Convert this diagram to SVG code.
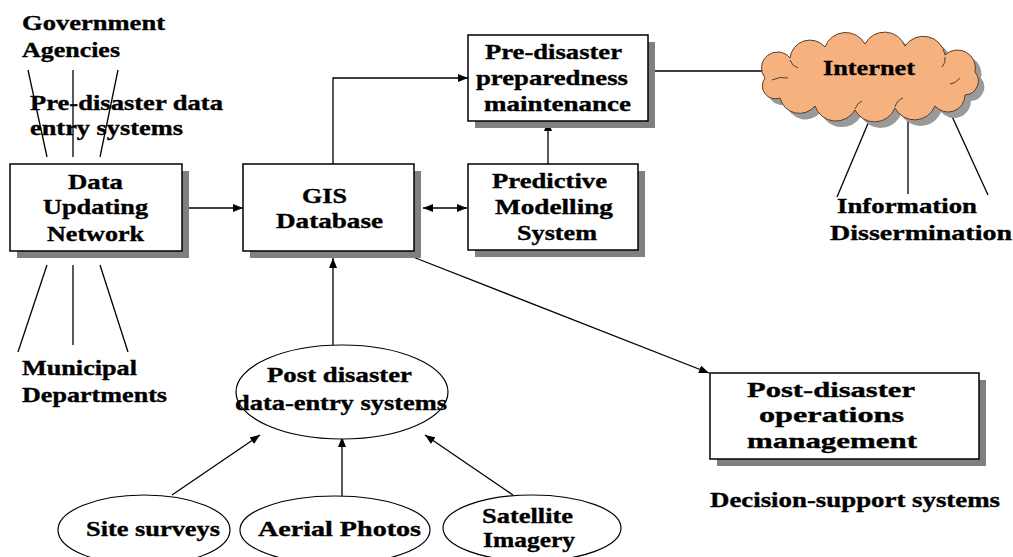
<svg xmlns="http://www.w3.org/2000/svg" width="1013" height="557" viewBox="0 0 1013 557">
<style>
  text { font-family: "Liberation Serif", "Times New Roman", serif; font-weight: bold; font-size: 21px; fill: #000; stroke: #000; stroke-width: 0.35; }
  .box { fill: #fff; stroke: #000; stroke-width: 1.5; }
  .shadow { fill: #808080; }
  .ell { fill: #fff; stroke: #000; stroke-width: 1.2; }
  .conn { fill: none; stroke: #000; stroke-width: 1.3; }
  .arr { marker-end: url(#ah); }
</style>
<defs>
  <marker id="ah" markerUnits="userSpaceOnUse" markerWidth="10" markerHeight="8" refX="10" refY="4" orient="auto-start-reverse">
    <path d="M0,0 L10,4 L0,8 z" fill="#000"/>
  </marker>
</defs>
<rect width="1013" height="557" fill="#fff"/>

<g id="connectors">
  <line class="conn arr" x1="189" y1="208" x2="243" y2="208"/>
  <polyline class="conn arr" points="333,165 333,78 468,78"/>
  <line class="conn" x1="423" y1="208" x2="467" y2="208" marker-start="url(#ah)" marker-end="url(#ah)"/>
  <line class="conn arr" x1="548" y1="164" x2="548" y2="121"/>
  <line class="conn" x1="655" y1="71" x2="765" y2="71"/>
  <line class="conn arr" x1="413" y1="257" x2="709" y2="373"/>
  <line class="conn arr" x1="333" y1="345" x2="333" y2="258"/>
  <line class="conn arr" x1="172" y1="495" x2="260" y2="435"/>
  <line class="conn arr" x1="342" y1="496" x2="342" y2="437"/>
  <line class="conn arr" x1="513" y1="495" x2="425" y2="435"/>
  <line class="conn" x1="28" y1="70" x2="47" y2="157"/>
  <line class="conn" x1="73" y1="70" x2="73" y2="157"/>
  <line class="conn" x1="118" y1="70" x2="100" y2="157"/>
  <line class="conn" x1="47" y1="265" x2="18" y2="352"/>
  <line class="conn" x1="73" y1="265" x2="73" y2="345"/>
  <line class="conn" x1="100" y1="265" x2="128" y2="352"/>
  <line class="conn" x1="872" y1="114" x2="837" y2="197"/>
  <line class="conn" x1="908" y1="106" x2="908" y2="194"/>
  <line class="conn" x1="945" y1="101" x2="988" y2="195"/>
</g>

<g id="gov-agencies">
  <text x="22" y="30" textLength="143" lengthAdjust="spacingAndGlyphs">Government</text>
  <text x="22" y="57" textLength="98" lengthAdjust="spacingAndGlyphs">Agencies</text>
</g>
<g id="pre-entry-label">
  <text x="30" y="110" textLength="193" lengthAdjust="spacingAndGlyphs">Pre-disaster data</text>
  <text x="30" y="135" textLength="153" lengthAdjust="spacingAndGlyphs">entry systems</text>
</g>

<g id="data-updating">
  <rect class="shadow" x="17" y="171" width="172" height="87"/>
  <rect class="box" x="10" y="164" width="172" height="87"/>
  <text x="68" y="189" textLength="55" lengthAdjust="spacingAndGlyphs">Data</text>
  <text x="43" y="214" textLength="105" lengthAdjust="spacingAndGlyphs">Updating</text>
  <text x="47" y="241" textLength="97" lengthAdjust="spacingAndGlyphs">Network</text>
</g>

<g id="gis-db">
  <rect class="shadow" x="250" y="171" width="171" height="87"/>
  <rect class="box" x="243" y="164" width="171" height="87"/>
  <text x="302" y="203" textLength="45" lengthAdjust="spacingAndGlyphs">GIS</text>
  <text x="276" y="228" textLength="107" lengthAdjust="spacingAndGlyphs">Database</text>
</g>

<g id="pre-disaster-prep">
  <rect class="shadow" x="475" y="42" width="180" height="86"/>
  <rect class="box" x="468" y="35" width="180" height="86"/>
  <text x="485" y="59" textLength="137" lengthAdjust="spacingAndGlyphs">Pre-disaster</text>
  <text x="476" y="85" textLength="152" lengthAdjust="spacingAndGlyphs">preparedness</text>
  <text x="484" y="111" textLength="147" lengthAdjust="spacingAndGlyphs">maintenance</text>
</g>

<g id="predictive">
  <rect class="shadow" x="475" y="171" width="170" height="86"/>
  <rect class="box" x="468" y="164" width="170" height="86"/>
  <text x="492" y="188" textLength="115" lengthAdjust="spacingAndGlyphs">Predictive</text>
  <text x="495" y="214" textLength="118" lengthAdjust="spacingAndGlyphs">Modelling</text>
  <text x="517" y="240" textLength="80" lengthAdjust="spacingAndGlyphs">System</text>
</g>

<g id="internet">
  <path transform="translate(6,6)" fill="#9a9a9a" d="M765,78 A16,16 0 0 1 790,58 A20,20 0 0 1 825,47 A22,22 0 0 1 865,44 A22,22 0 0 1 905,46 A22,22 0 0 1 945,55 A18,18 0 0 1 975,72 A14,14 0 0 1 965,95 A17,17 0 0 1 935,106 A22,22 0 0 1 895,108 A22,22 0 0 1 855,110 A22,22 0 0 1 815,106 A20,20 0 0 1 780,98 A13,13 0 0 1 765,78 Z"/>
  <path fill="#F6B27E" stroke="#5a3d28" stroke-width="1" d="M765,78 A16,16 0 0 1 790,58 A20,20 0 0 1 825,47 A22,22 0 0 1 865,44 A22,22 0 0 1 905,46 A22,22 0 0 1 945,55 A18,18 0 0 1 975,72 A14,14 0 0 1 965,95 A17,17 0 0 1 935,106 A22,22 0 0 1 895,108 A22,22 0 0 1 855,110 A22,22 0 0 1 815,106 A20,20 0 0 1 780,98 A13,13 0 0 1 765,78 Z"/>
  <path fill="none" stroke="#5a3d28" stroke-width="1" d="M772,80 Q780,76 788,78 M790,60 Q792,66 798,68 M945,57 Q946,63 942,67 M960,78 Q955,84 950,84 M895,107 Q897,100 903,98 M855,109 Q857,103 862,101"/>
  <text x="823" y="75" textLength="92" lengthAdjust="spacingAndGlyphs">Internet</text>
</g>

<g id="info-dissemination">
  <text x="837" y="213" textLength="140" lengthAdjust="spacingAndGlyphs">Information</text>
  <text x="830" y="240" textLength="182" lengthAdjust="spacingAndGlyphs">Dissermination</text>
</g>

<g id="municipal">
  <text x="22" y="375" textLength="115" lengthAdjust="spacingAndGlyphs">Municipal</text>
  <text x="22" y="402" textLength="145" lengthAdjust="spacingAndGlyphs">Departments</text>
</g>

<g id="post-entry">
  <ellipse class="ell" cx="342" cy="392" rx="106" ry="47"/>
  <text x="267" y="382" textLength="145" lengthAdjust="spacingAndGlyphs">Post disaster</text>
  <text x="235" y="410" textLength="212" lengthAdjust="spacingAndGlyphs">data-entry systems</text>
</g>

<g id="post-ops">
  <rect class="shadow" x="717" y="380" width="269" height="86"/>
  <rect class="box" x="710" y="373" width="269" height="86"/>
  <text x="747" y="397" textLength="168" lengthAdjust="spacingAndGlyphs">Post-disaster</text>
  <text x="759" y="422" textLength="145" lengthAdjust="spacingAndGlyphs">operations</text>
  <text x="747" y="448" textLength="170" lengthAdjust="spacingAndGlyphs">management</text>
</g>

<g id="decision-support">
  <text x="710" y="507" textLength="290" lengthAdjust="spacingAndGlyphs">Decision-support systems</text>
</g>

<g id="site-surveys">
  <ellipse class="ell" cx="144" cy="530" rx="86" ry="35"/>
  <text x="86" y="536" textLength="134" lengthAdjust="spacingAndGlyphs">Site surveys</text>
</g>

<g id="aerial-photos">
  <ellipse class="ell" cx="335" cy="530" rx="95" ry="34"/>
  <text x="258" y="536" textLength="163" lengthAdjust="spacingAndGlyphs">Aerial Photos</text>
</g>

<g id="satellite">
  <ellipse class="ell" cx="532" cy="528" rx="89" ry="33"/>
  <text x="482" y="523" textLength="91" lengthAdjust="spacingAndGlyphs">Satellite</text>
  <text x="483" y="547" textLength="92" lengthAdjust="spacingAndGlyphs">Imagery</text>
</g>
</svg>
